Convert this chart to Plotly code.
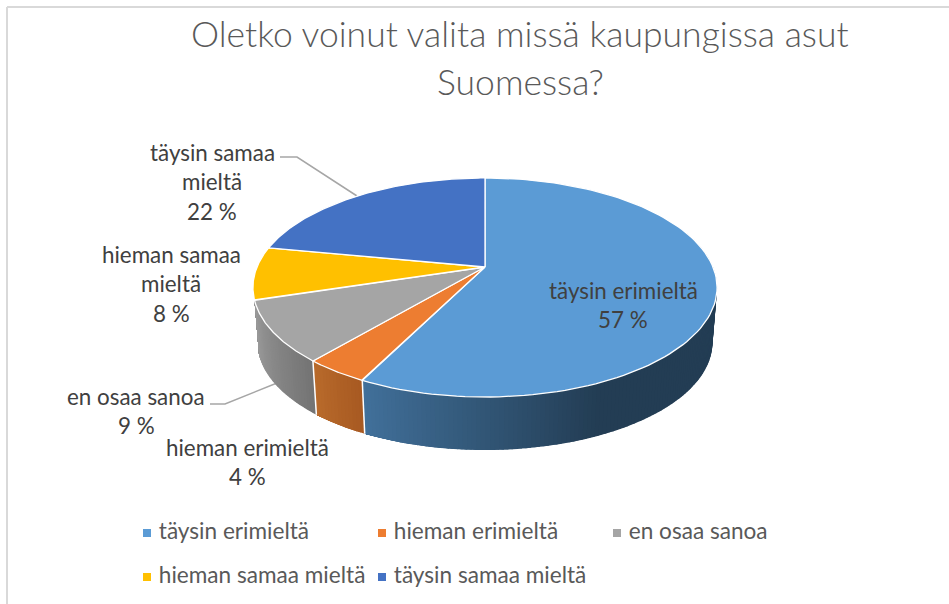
import numpy as np
import plotly.graph_objects as go

CATEGORIES = ['täysin erimieltä', 'hieman erimieltä', 'en osaa sanoa', 'hieman samaa mieltä', 'täysin samaa mieltä']
# shares read from the slice edges, they round to the printed labels
VALUES = [57.4, 3.8, 9.0, 7.8, 22.0]
COLORS = ['#5B9BD5', '#ED7D31', '#A5A5A5', '#FFC000', '#4472C4']
# side wall colours, left end / right end of the wall (None = wall hidden)
SIDE_LEFT = ['#41709A', '#B86A2B', '#9A9A9A', None, None]
SIDE_RIGHT = ['#233D54', '#A85A22', '#747474', None, None]

TITLE_LINES = [('Oletko voinut valita missä kaupungissa asut', 33), ('Suomessa?', 81)]
LABEL_LINES = [
    (['täysin erimieltä', '57 %'], 623, 290),
    (['hieman erimieltä', '4 %'], 247, 447),
    (['en osaa sanoa', '9 %'], 136, 396),
    (['hieman samaa', 'mieltä', '8 %'], 171, 254),
    (['täysin samaa', 'mieltä', '22 %'], 212, 152),
]
LEADERS = [
    ([280, 297, 357], [157, 157, 196]),
    ([210, 225, 277], [404, 404, 383]),
]
LEGEND_X = [147, 382, 617, 147, 382]
LEGEND_Y = [533, 533, 533, 577, 577]

# pie projection on the page, pixels
CX, CY = 485, 267
RX, RY, PERSP = 228, 105.7, 0.187
DEPTH, BOTTOM_SCALE = 55.6, 0.98


def top_point(theta):
    u, v = np.sin(theta), -np.cos(theta)
    w = 1 - PERSP * v
    return CX + RX * u / w, CY + RY * v / w


def bottom_point(theta):
    x, y = top_point(theta)
    return CX + (x - CX) * BOTTOM_SCALE, CY + DEPTH + (y - CY) * BOTTOM_SCALE


def mix(c1, c2, t):
    a = [int(c1[i:i + 2], 16) for i in (1, 3, 5)]
    b = [int(c2[i:i + 2], 16) for i in (1, 3, 5)]
    return 'rgb(%d,%d,%d)' % tuple(round(p + (q - p) * t) for p, q in zip(a, b))


edges = np.cumsum([0] + VALUES) / sum(VALUES) * 2 * np.pi
fig = go.Figure()

# leader lines go under the pie
for lx, ly in LEADERS:
    fig.add_trace(go.Scatter(x=lx, y=ly, mode='lines', line=dict(color='#A6A6A6', width=1.5), hoverinfo='skip'))

# side walls, thin strips so the shading can run along them
for i in range(len(VALUES)):
    if SIDE_LEFT[i] is None:
        continue
    start = max(edges[i], np.radians(70))
    stop = edges[i + 1]
    steps = np.linspace(start, stop, max(int((stop - start) * 60), 4) + 1)
    n = len(steps) - 1
    for k in range(n):
        # each strip runs on to the end of the wall, the next one paints over it
        t = np.array([steps[k], steps[k + 1], stop])
        tx, ty = top_point(t)
        bx, by = bottom_point(t)
        pos = 1 - k / (n - 1)
        if i == 0:
            # the blue wall reaches its darkest colour well before the middle
            pos = min(1, pos * 2.7)
        color = mix(SIDE_LEFT[i], SIDE_RIGHT[i], pos)
        fig.add_trace(go.Scatter(
            x=list(tx) + list(bx[::-1]), y=list(ty) + list(by[::-1]),
            mode='lines', fill='toself', fillcolor=color,
            line=dict(color=color, width=0), hoverinfo='skip'))

# white seams where the walls meet
for i in (0, 1):
    sx, sy = top_point(edges[i + 1]), bottom_point(edges[i + 1])
    fig.add_trace(go.Scatter(x=[sx[0], sy[0]], y=[sx[1], sy[1]], mode='lines',
                             line=dict(color='white', width=1.5), hoverinfo='skip'))

# top face
for i, name in enumerate(CATEGORIES):
    t = np.linspace(edges[i], edges[i + 1], 120)
    ex, ey = top_point(t)
    fig.add_trace(go.Scatter(
        x=[CX] + list(ex) + [CX], y=[CY] + list(ey) + [CY],
        mode='lines', fill='toself', fillcolor=COLORS[i],
        line=dict(color='white', width=1.3), name=name,
        hovertemplate=f'{name}: {VALUES[i]:.0f} %<extra></extra>'))

# legend, kept as a trace because the rows are far apart
fig.add_trace(go.Scatter(
    x=LEGEND_X, y=LEGEND_Y, mode='markers+text',
    marker=dict(symbol='square', size=8, color=COLORS),
    text=[' ' + c for c in CATEGORIES], textposition='middle right',
    textfont=dict(family='Lato', size=22.6, color='#595959'), hoverinfo='skip'))

annotations = []
for line, ay in TITLE_LINES:
    annotations.append(dict(
        x=520, y=ay, text=line, showarrow=False, xanchor='center', yanchor='middle',
        font=dict(family='Lato', size=35.5, weight=300, color='#595959')))
for lines, ax, ay in LABEL_LINES:
    for j, line in enumerate(lines):
        annotations.append(dict(
            x=ax, y=ay + j * 29.5, text=line, showarrow=False, xanchor='center', yanchor='middle',
            font=dict(family='Lato', size=22.4, color='#404040')))

fig.update_layout(
    annotations=annotations,
    shapes=[
        dict(type='line', x0=7, x1=949, y0=7, y1=7, line=dict(color='#D9D9D9', width=2)),
        dict(type='line', x0=7, x1=7, y0=7, y1=604, line=dict(color='#D9D9D9', width=2)),
    ],
    showlegend=False,
    width=949,
    height=604,
    margin=dict(l=0, r=0, t=0, b=0),
    paper_bgcolor='white',
    plot_bgcolor='white',
    xaxis=dict(range=[0, 949], visible=False, fixedrange=True),
    yaxis=dict(range=[604, 0], visible=False, fixedrange=True),
)

fig.write_html("out.html", config=dict(displayModeBar=False),
               post_script="document.body.style.margin='0';document.body.style.overflow='hidden';")
